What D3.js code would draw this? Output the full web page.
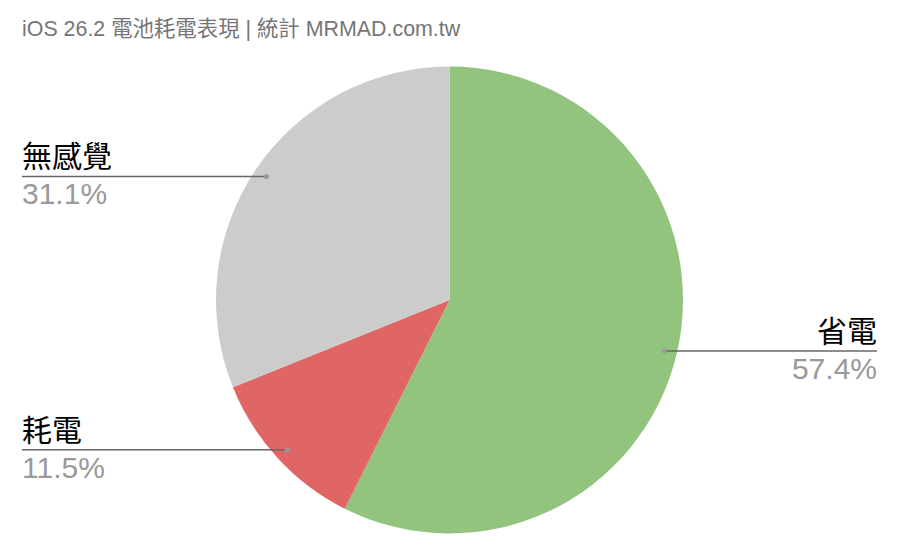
<!DOCTYPE html>
<html>
<head>
<meta charset="utf-8">
<script src="https://cdn.jsdelivr.net/npm/d3@7"></script>
<style>
  body { margin: 0; background: #fff; }
</style>
</head>
<body>
<div id="chart"></div>
<script>
// chart data
const labels = ["省電", "耗電", "無感覺"];
const values = [57.4, 11.5, 31.1];
const colors = ["#93c47d", "#e06666", "#cccccc"];
const titleText = "iOS 26.2 電池耗電表現 | 統計 MRMAD.com.tw";

const width = 900,
  height = 559;
const cx = 449.5,
  cy = 300,
  radius = 233.5;

const svg = d3
  .select("#chart")
  .append("svg")
  .attr("width", width)
  .attr("height", height);

svg
  .append("text")
  .attr("x", 22)
  .attr("y", 36)
  .style("font-family", "'Liberation Sans', 'Noto Sans CJK TC', sans-serif")
  .style("font-size", "21.4px")
  .style("fill", "#757575")
  .text(titleText);

const data = labels.map((d, i) => ({ name: d, value: values[i], color: colors[i] }));

const pie = d3.pie().value((d) => d.value).sort(null);
const arc = d3.arc().innerRadius(0).outerRadius(radius);
const arcs = pie(data);

const g = svg.append("g").attr("transform", `translate(${cx}, ${cy})`);

g.selectAll("path")
  .data(arcs)
  .join("path")
  .attr("d", arc)
  .attr("fill", (d) => d.data.color);

// label lines: end point sits inside the slice, text goes to the outer margin
const pointArc = d3.arc().innerRadius(radius * 0.946).outerRadius(radius * 0.946);
const leftX = 22,
  rightX = 877;

arcs.forEach((d) => {
  const [px, py] = pointArc.centroid(d);
  const x = cx + px,
    y = cy + py;
  const right = x > cx;
  const tx = right ? rightX : leftX;
  const anchor = right ? "end" : "start";

  svg
    .append("line")
    .attr("x1", x)
    .attr("y1", y)
    .attr("x2", tx)
    .attr("y2", y)
    .attr("stroke", "#666")
    .attr("stroke-width", 1.5);

  svg
    .append("circle")
    .attr("cx", x)
    .attr("cy", y)
    .attr("r", 2.5)
    .attr("fill", "#999");

  svg
    .append("text")
    .attr("x", tx)
    .attr("y", y - 9)
    .attr("text-anchor", anchor)
    .style("font-family", "'Noto Sans CJK TC', sans-serif")
    .style("font-size", "30px")
    .style("fill", "#000")
    .text(d.data.name);

  svg
    .append("text")
    .attr("x", tx)
    .attr("y", y + 28)
    .attr("text-anchor", anchor)
    .style("font-family", "'Liberation Sans', Arial, sans-serif")
    .style("font-size", "30px")
    .style("fill", "#999")
    .text(d.data.value.toFixed(1) + "%");
});
</script>
</body>
</html>
